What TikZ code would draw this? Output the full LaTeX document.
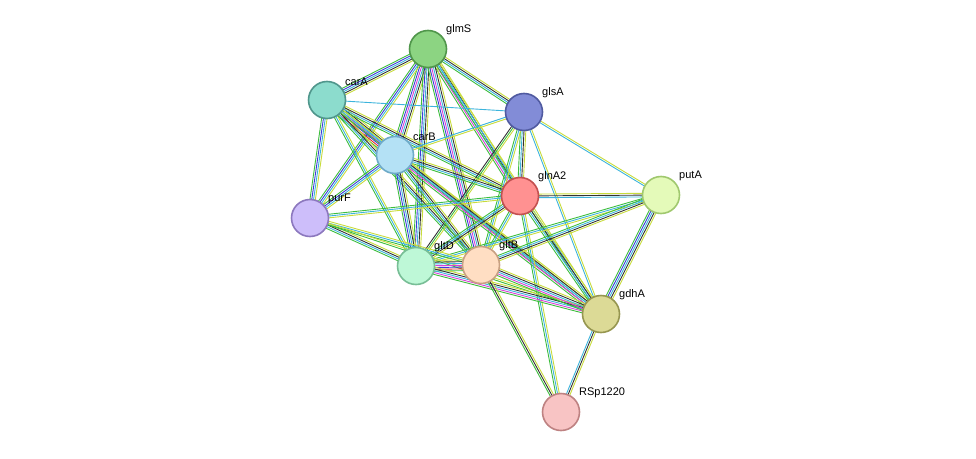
\documentclass[tikz,border=0pt]{standalone}
\usepackage{fontspec}
\setmainfont{Liberation Sans}
\usetikzlibrary{calc}
\definecolor{lg}{HTML}{3DBD3D}
\definecolor{ly}{HTML}{C8DC3C}
\definecolor{lb}{HTML}{3C3CD8}
\definecolor{lk}{HTML}{333333}
\definecolor{lm}{HTML}{D840D8}
\definecolor{lc}{HTML}{3CB4DC}
\definecolor{lr}{HTML}{E03030}
\newcommand\lnk[3]{%
  \def\n{0}\foreach \c in {#3}{\xdef\n{\the\numexpr\n+1\relax}}%
  \foreach \c [count=\i] in {#3}{%
    \pgfmathsetmacro\o{(\i-(\n+1)/2)*1.8}%
    \draw[edge,draw=l\c] ($(#1)!\o pt!90:(#2)$) -- ($(#2)!\o pt!-90:(#1)$);}}
\tikzset{
  edge/.style={line width=0.9pt},
  prot/.style={circle, minimum size=37pt, line width=1.6pt, inner sep=0pt},
  lbl/.style={anchor=south west, font=\fontsize{11}{13}\selectfont, inner sep=1pt}
}
\begin{document}
\begin{tikzpicture}[x=1pt,y=-1pt]
\useasboundingbox (0,0) rectangle (976,458);
% positions
\coordinate (glmS) at (428,49);
\coordinate (carA) at (327,100);
\coordinate (glsA) at (524,112);
\coordinate (carB) at (395,155);
\coordinate (glnA2) at (520,196);
\coordinate (putA) at (661,195);
\coordinate (purF) at (310,218);
\coordinate (gltD) at (416,266);
\coordinate (gltB) at (481,265);
\coordinate (gdhA) at (601,314);
\coordinate (RSp1220) at (561,412);
% links
\lnk{glmS}{carA}{g,b,c,k,y}
\lnk{glmS}{glsA}{g,c,k,y}
\lnk{glmS}{carB}{g,b,m,c,k,y}
\lnk{glmS}{glnA2}{g,m,c,k,y}
\lnk{glmS}{purF}{g,b,c,y}
\lnk{glmS}{gltD}{g,b,c,k,y}
\lnk{glmS}{gltB}{g,b,m,c,k,y}
\lnk{glmS}{gdhA}{g,c,y}
\lnk{carA}{glsA}{c}
\lnk{carA}{carB}{g,r,b,m,c,k,y}
\lnk{carA}{glnA2}{g,c,k,y}
\lnk{carA}{purF}{g,b,c,y}
\lnk{carA}{gltD}{g,c,y}
\lnk{carA}{gltB}{g,c,k,y}
\lnk{carA}{gdhA}{g,c,y}
\lnk{glsA}{carB}{c,y}
\lnk{glsA}{glnA2}{g,c,k,y}
\lnk{glsA}{putA}{c,y}
\lnk{glsA}{gltD}{k,g,y}
\lnk{glsA}{gltB}{g,c,y}
\lnk{glsA}{gdhA}{c,y}
\lnk{carB}{glnA2}{g,c,k,y}
\lnk{carB}{purF}{g,b,c,y}
\lnk{carB}{gltD}{g,b,c,k,y}
\lnk{carB}{gltB}{g,c,k,y}
\lnk{carB}{gdhA}{g,m,c,k,y}
\lnk{glnA2}{putA}{c,k,y}
\lnk{glnA2}{purF}{g,c,y}
\lnk{glnA2}{gltD}{g,c,k,y}
\lnk{glnA2}{gltB}{g,c,y}
\lnk{glnA2}{gdhA}{g,c,k,y}
\lnk{glnA2}{RSp1220}{g,c,y}
\lnk{putA}{gdhA}{g,b,c,k,y}
\lnk{putA}{gltD}{g,c,y}
\lnk{putA}{gltB}{g,c,k,y}
\lnk{purF}{gltD}{g,c,k,y}
\lnk{purF}{gltB}{g,c,y}
\lnk{purF}{gdhA}{g,y}
\lnk{gltD}{gltB}{g,r,b,m,c,k,y}
\lnk{gltD}{gdhA}{g,m,c,k,y}
\lnk{gltB}{gdhA}{g,m,c,k,y}
\lnk{gltB}{RSp1220}{g,k,y}
\lnk{gdhA}{RSp1220}{c,k,y}
% proteins
\node[prot, fill={rgb,255:red,140;green,212;blue,130}, draw={rgb,255:red,80;green,150;blue,75}] (n-glmS) at (glmS) {};
\node[prot, fill={rgb,255:red,140;green,220;blue,205}, draw={rgb,255:red,80;green,150;blue,140}] (n-carA) at (carA) {};
\node[prot, fill={rgb,255:red,130;green,140;blue,215}, draw={rgb,255:red,80;green,90;blue,160}] (n-glsA) at (glsA) {};
\node[prot, fill={rgb,255:red,180;green,225;blue,245}, draw={rgb,255:red,110;green,170;blue,200}] (n-carB) at (carB) {};
\node[prot, fill={rgb,255:red,255;green,145;blue,145}, draw={rgb,255:red,195;green,80;blue,80}] (n-glnA2) at (glnA2) {};
\node[prot, fill={rgb,255:red,228;green,250;blue,185}, draw={rgb,255:red,160;green,200;blue,110}] (n-putA) at (putA) {};
\node[prot, fill={rgb,255:red,205;green,190;blue,250}, draw={rgb,255:red,140;green,120;blue,190}] (n-purF) at (purF) {};
\node[prot, fill={rgb,255:red,190;green,248;blue,215}, draw={rgb,255:red,120;green,190;blue,150}] (n-gltD) at (gltD) {};
\node[prot, fill={rgb,255:red,255;green,222;blue,195}, draw={rgb,255:red,200;green,160;blue,130}] (n-gltB) at (gltB) {};
\node[prot, fill={rgb,255:red,220;green,218;blue,150}, draw={rgb,255:red,150;green,150;blue,80}] (n-gdhA) at (gdhA) {};
\node[prot, fill={rgb,255:red,248;green,196;blue,196}, draw={rgb,255:red,190;green,130;blue,130}] (n-RSp1220) at (RSp1220) {};
% labels
\foreach \p in {glmS,carA,glsA,carB,glnA2,putA,purF,gltD,gltB,gdhA,RSp1220}
  \node[lbl] at ($(\p)+(17,-13)$) {\p};
\end{tikzpicture}
\end{document}
